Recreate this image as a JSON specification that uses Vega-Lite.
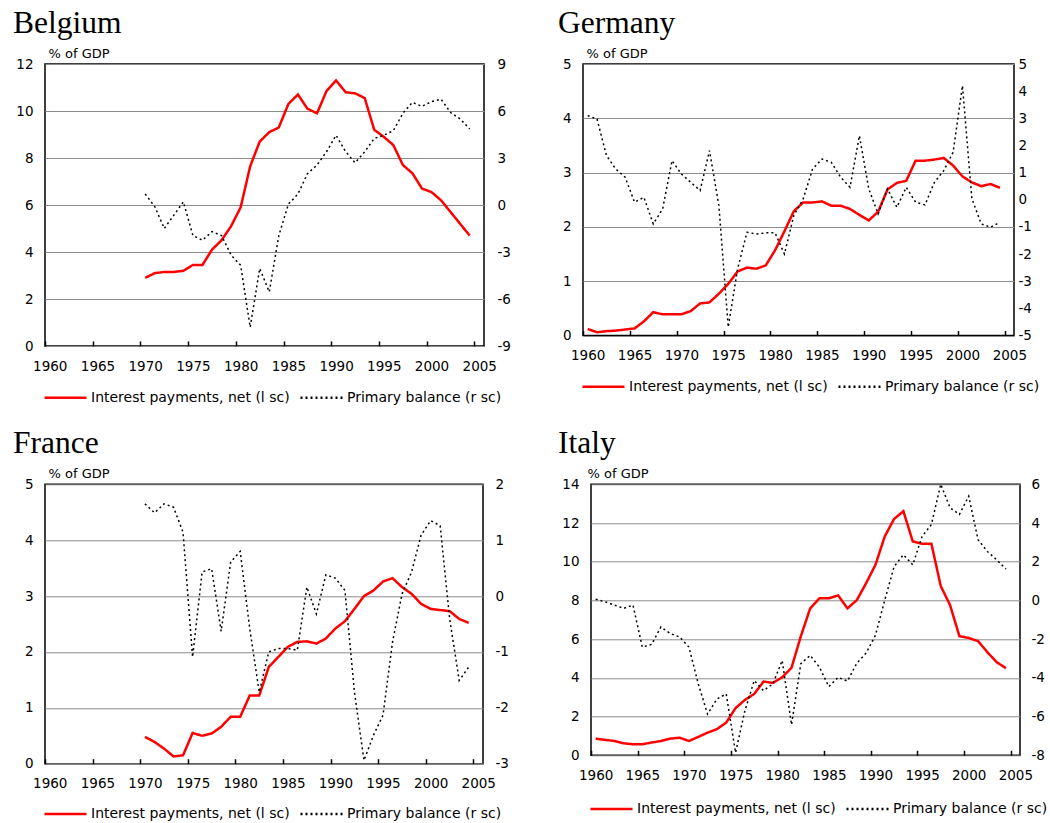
{
"$schema": "https://vega.github.io/schema/vega-lite/v6.json",
"padding": {"left": 12, "top": 6, "right": 5, "bottom": 5},
"background": "white",
"datasets": {
"BE": [
{"s":"ip","year":1970,"v":2.9},{"s":"ip","year":1971,"v":3.1},{"s":"ip","year":1972,"v":3.15},{"s":"ip","year":1973,"v":3.15},{"s":"ip","year":1974,"v":3.2},{"s":"ip","year":1975,"v":3.45},{"s":"ip","year":1976,"v":3.45},{"s":"ip","year":1977,"v":4.1},{"s":"ip","year":1978,"v":4.5},{"s":"ip","year":1979,"v":5.1},{"s":"ip","year":1980,"v":5.9},{"s":"ip","year":1981,"v":7.65},{"s":"ip","year":1982,"v":8.7},{"s":"ip","year":1983,"v":9.1},{"s":"ip","year":1984,"v":9.3},{"s":"ip","year":1985,"v":10.3},{"s":"ip","year":1986,"v":10.7},{"s":"ip","year":1987,"v":10.1},{"s":"ip","year":1988,"v":9.9},{"s":"ip","year":1989,"v":10.85},{"s":"ip","year":1990,"v":11.3},{"s":"ip","year":1991,"v":10.8},{"s":"ip","year":1992,"v":10.75},{"s":"ip","year":1993,"v":10.55},{"s":"ip","year":1994,"v":9.2},{"s":"ip","year":1995,"v":8.9},{"s":"ip","year":1996,"v":8.55},{"s":"ip","year":1997,"v":7.7},{"s":"ip","year":1998,"v":7.35},{"s":"ip","year":1999,"v":6.7},{"s":"ip","year":2000,"v":6.55},{"s":"ip","year":2001,"v":6.2},{"s":"ip","year":2002,"v":5.7},{"s":"ip","year":2003,"v":5.2},{"s":"ip","year":2004,"v":4.7},
{"s":"pb","year":1970,"v":0.7},{"s":"pb","year":1971,"v":-0.1},{"s":"pb","year":1972,"v":-1.5},{"s":"pb","year":1973,"v":-0.65},{"s":"pb","year":1974,"v":0.2},{"s":"pb","year":1975,"v":-1.95},{"s":"pb","year":1976,"v":-2.25},{"s":"pb","year":1977,"v":-1.7},{"s":"pb","year":1978,"v":-1.95},{"s":"pb","year":1979,"v":-3.2},{"s":"pb","year":1980,"v":-3.85},{"s":"pb","year":1981,"v":-7.8},{"s":"pb","year":1982,"v":-4.05},{"s":"pb","year":1983,"v":-5.55},{"s":"pb","year":1984,"v":-1.95},{"s":"pb","year":1985,"v":0.05},{"s":"pb","year":1986,"v":0.7},{"s":"pb","year":1987,"v":2.0},{"s":"pb","year":1988,"v":2.55},{"s":"pb","year":1989,"v":3.4},{"s":"pb","year":1990,"v":4.45},{"s":"pb","year":1991,"v":3.4},{"s":"pb","year":1992,"v":2.7},{"s":"pb","year":1993,"v":3.4},{"s":"pb","year":1994,"v":4.25},{"s":"pb","year":1995,"v":4.45},{"s":"pb","year":1996,"v":4.75},{"s":"pb","year":1997,"v":5.85},{"s":"pb","year":1998,"v":6.55},{"s":"pb","year":1999,"v":6.3},{"s":"pb","year":2000,"v":6.6},{"s":"pb","year":2001,"v":6.75},{"s":"pb","year":2002,"v":5.9},{"s":"pb","year":2003,"v":5.5},{"s":"pb","year":2004,"v":4.85}
],
"DE": [
{"s":"ip","year":1960,"v":0.12},{"s":"ip","year":1961,"v":0.06},{"s":"ip","year":1962,"v":0.08},{"s":"ip","year":1963,"v":0.09},{"s":"ip","year":1964,"v":0.11},{"s":"ip","year":1965,"v":0.13},{"s":"ip","year":1966,"v":0.26},{"s":"ip","year":1967,"v":0.43},{"s":"ip","year":1968,"v":0.39},{"s":"ip","year":1969,"v":0.39},{"s":"ip","year":1970,"v":0.39},{"s":"ip","year":1971,"v":0.45},{"s":"ip","year":1972,"v":0.59},{"s":"ip","year":1973,"v":0.61},{"s":"ip","year":1974,"v":0.77},{"s":"ip","year":1975,"v":0.95},{"s":"ip","year":1976,"v":1.18},{"s":"ip","year":1977,"v":1.25},{"s":"ip","year":1978,"v":1.23},{"s":"ip","year":1979,"v":1.29},{"s":"ip","year":1980,"v":1.57},{"s":"ip","year":1981,"v":1.92},{"s":"ip","year":1982,"v":2.29},{"s":"ip","year":1983,"v":2.45},{"s":"ip","year":1984,"v":2.45},{"s":"ip","year":1985,"v":2.47},{"s":"ip","year":1986,"v":2.39},{"s":"ip","year":1987,"v":2.39},{"s":"ip","year":1988,"v":2.33},{"s":"ip","year":1989,"v":2.22},{"s":"ip","year":1990,"v":2.12},{"s":"ip","year":1991,"v":2.28},{"s":"ip","year":1992,"v":2.69},{"s":"ip","year":1993,"v":2.81},{"s":"ip","year":1994,"v":2.85},{"s":"ip","year":1995,"v":3.22},{"s":"ip","year":1996,"v":3.22},{"s":"ip","year":1997,"v":3.24},{"s":"ip","year":1998,"v":3.27},{"s":"ip","year":1999,"v":3.13},{"s":"ip","year":2000,"v":2.93},{"s":"ip","year":2001,"v":2.82},{"s":"ip","year":2002,"v":2.75},{"s":"ip","year":2003,"v":2.79},{"s":"ip","year":2004,"v":2.72},
{"s":"pb","year":1960,"v":3.1},{"s":"pb","year":1961,"v":2.97},{"s":"pb","year":1962,"v":1.63},{"s":"pb","year":1963,"v":1.13},{"s":"pb","year":1964,"v":0.83},{"s":"pb","year":1965,"v":-0.09},{"s":"pb","year":1966,"v":0.09},{"s":"pb","year":1967,"v":-0.89},{"s":"pb","year":1968,"v":-0.34},{"s":"pb","year":1969,"v":1.44},{"s":"pb","year":1970,"v":0.95},{"s":"pb","year":1971,"v":0.64},{"s":"pb","year":1972,"v":0.34},{"s":"pb","year":1973,"v":1.81},{"s":"pb","year":1974,"v":-0.21},{"s":"pb","year":1975,"v":-4.69},{"s":"pb","year":1976,"v":-2.55},{"s":"pb","year":1977,"v":-1.2},{"s":"pb","year":1978,"v":-1.26},{"s":"pb","year":1979,"v":-1.22},{"s":"pb","year":1980,"v":-1.22},{"s":"pb","year":1981,"v":-2.0},{"s":"pb","year":1982,"v":-0.58},{"s":"pb","year":1983,"v":0.03},{"s":"pb","year":1984,"v":1.13},{"s":"pb","year":1985,"v":1.5},{"s":"pb","year":1986,"v":1.38},{"s":"pb","year":1987,"v":0.83},{"s":"pb","year":1988,"v":0.46},{"s":"pb","year":1989,"v":2.36},{"s":"pb","year":1990,"v":0.4},{"s":"pb","year":1991,"v":-0.52},{"s":"pb","year":1992,"v":0.4},{"s":"pb","year":1993,"v":-0.28},{"s":"pb","year":1994,"v":0.46},{"s":"pb","year":1995,"v":-0.09},{"s":"pb","year":1996,"v":-0.19},{"s":"pb","year":1997,"v":0.64},{"s":"pb","year":1998,"v":1.07},{"s":"pb","year":1999,"v":1.75},{"s":"pb","year":2000,"v":4.2},{"s":"pb","year":2001,"v":0.05},{"s":"pb","year":2002,"v":-0.89},{"s":"pb","year":2003,"v":-1.01},{"s":"pb","year":2004,"v":-0.83}
],
"FR": [
{"s":"ip","year":1970,"v":0.48},{"s":"ip","year":1971,"v":0.39},{"s":"ip","year":1972,"v":0.27},{"s":"ip","year":1973,"v":0.13},{"s":"ip","year":1974,"v":0.15},{"s":"ip","year":1975,"v":0.55},{"s":"ip","year":1976,"v":0.5},{"s":"ip","year":1977,"v":0.54},{"s":"ip","year":1978,"v":0.66},{"s":"ip","year":1979,"v":0.84},{"s":"ip","year":1980,"v":0.84},{"s":"ip","year":1981,"v":1.22},{"s":"ip","year":1982,"v":1.22},{"s":"ip","year":1983,"v":1.73},{"s":"ip","year":1984,"v":1.91},{"s":"ip","year":1985,"v":2.09},{"s":"ip","year":1986,"v":2.18},{"s":"ip","year":1987,"v":2.19},{"s":"ip","year":1988,"v":2.15},{"s":"ip","year":1989,"v":2.24},{"s":"ip","year":1990,"v":2.42},{"s":"ip","year":1991,"v":2.55},{"s":"ip","year":1992,"v":2.77},{"s":"ip","year":1993,"v":3.0},{"s":"ip","year":1994,"v":3.1},{"s":"ip","year":1995,"v":3.26},{"s":"ip","year":1996,"v":3.32},{"s":"ip","year":1997,"v":3.16},{"s":"ip","year":1998,"v":3.04},{"s":"ip","year":1999,"v":2.86},{"s":"ip","year":2000,"v":2.77},{"s":"ip","year":2001,"v":2.75},{"s":"ip","year":2002,"v":2.73},{"s":"ip","year":2003,"v":2.59},{"s":"ip","year":2004,"v":2.52},
{"s":"pb","year":1970,"v":1.65},{"s":"pb","year":1971,"v":1.49},{"s":"pb","year":1972,"v":1.65},{"s":"pb","year":1973,"v":1.59},{"s":"pb","year":1974,"v":1.14},{"s":"pb","year":1975,"v":-1.09},{"s":"pb","year":1976,"v":0.43},{"s":"pb","year":1977,"v":0.49},{"s":"pb","year":1978,"v":-0.63},{"s":"pb","year":1979,"v":0.61},{"s":"pb","year":1980,"v":0.8},{"s":"pb","year":1981,"v":-0.58},{"s":"pb","year":1982,"v":-1.72},{"s":"pb","year":1983,"v":-1.0},{"s":"pb","year":1984,"v":-0.94},{"s":"pb","year":1985,"v":-0.94},{"s":"pb","year":1986,"v":-0.97},{"s":"pb","year":1987,"v":0.16},{"s":"pb","year":1988,"v":-0.32},{"s":"pb","year":1989,"v":0.38},{"s":"pb","year":1990,"v":0.32},{"s":"pb","year":1991,"v":0.1},{"s":"pb","year":1992,"v":-1.72},{"s":"pb","year":1993,"v":-2.94},{"s":"pb","year":1994,"v":-2.49},{"s":"pb","year":1995,"v":-2.13},{"s":"pb","year":1996,"v":-0.82},{"s":"pb","year":1997,"v":0.04},{"s":"pb","year":1998,"v":0.43},{"s":"pb","year":1999,"v":1.09},{"s":"pb","year":2000,"v":1.35},{"s":"pb","year":2001,"v":1.26},{"s":"pb","year":2002,"v":-0.41},{"s":"pb","year":2003,"v":-1.51},{"s":"pb","year":2004,"v":-1.27}
],
"IT": [
{"s":"ip","year":1960,"v":0.86},{"s":"ip","year":1961,"v":0.8},{"s":"ip","year":1962,"v":0.74},{"s":"ip","year":1963,"v":0.62},{"s":"ip","year":1964,"v":0.57},{"s":"ip","year":1965,"v":0.57},{"s":"ip","year":1966,"v":0.66},{"s":"ip","year":1967,"v":0.74},{"s":"ip","year":1968,"v":0.86},{"s":"ip","year":1969,"v":0.91},{"s":"ip","year":1970,"v":0.74},{"s":"ip","year":1971,"v":0.95},{"s":"ip","year":1972,"v":1.17},{"s":"ip","year":1973,"v":1.35},{"s":"ip","year":1974,"v":1.69},{"s":"ip","year":1975,"v":2.44},{"s":"ip","year":1976,"v":2.86},{"s":"ip","year":1977,"v":3.17},{"s":"ip","year":1978,"v":3.81},{"s":"ip","year":1979,"v":3.74},{"s":"ip","year":1980,"v":4.03},{"s":"ip","year":1981,"v":4.52},{"s":"ip","year":1982,"v":6.15},{"s":"ip","year":1983,"v":7.59},{"s":"ip","year":1984,"v":8.11},{"s":"ip","year":1985,"v":8.11},{"s":"ip","year":1986,"v":8.26},{"s":"ip","year":1987,"v":7.59},{"s":"ip","year":1988,"v":8.02},{"s":"ip","year":1989,"v":8.89},{"s":"ip","year":1990,"v":9.84},{"s":"ip","year":1991,"v":11.31},{"s":"ip","year":1992,"v":12.21},{"s":"ip","year":1993,"v":12.61},{"s":"ip","year":1994,"v":11.05},{"s":"ip","year":1995,"v":10.93},{"s":"ip","year":1996,"v":10.93},{"s":"ip","year":1997,"v":8.75},{"s":"ip","year":1998,"v":7.76},{"s":"ip","year":1999,"v":6.16},{"s":"ip","year":2000,"v":6.06},{"s":"ip","year":2001,"v":5.9},{"s":"ip","year":2002,"v":5.33},{"s":"ip","year":2003,"v":4.81},{"s":"ip","year":2004,"v":4.5},
{"s":"pb","year":1960,"v":0.06},{"s":"pb","year":1961,"v":-0.07},{"s":"pb","year":1962,"v":-0.24},{"s":"pb","year":1963,"v":-0.41},{"s":"pb","year":1964,"v":-0.24},{"s":"pb","year":1965,"v":-2.41},{"s":"pb","year":1966,"v":-2.27},{"s":"pb","year":1967,"v":-1.37},{"s":"pb","year":1968,"v":-1.71},{"s":"pb","year":1969,"v":-1.89},{"s":"pb","year":1970,"v":-2.41},{"s":"pb","year":1971,"v":-4.31},{"s":"pb","year":1972,"v":-5.87},{"s":"pb","year":1973,"v":-5.09},{"s":"pb","year":1974,"v":-4.83},{"s":"pb","year":1975,"v":-7.86},{"s":"pb","year":1976,"v":-5.7},{"s":"pb","year":1977,"v":-4.14},{"s":"pb","year":1978,"v":-4.66},{"s":"pb","year":1979,"v":-4.31},{"s":"pb","year":1980,"v":-3.1},{"s":"pb","year":1981,"v":-6.42},{"s":"pb","year":1982,"v":-3.27},{"s":"pb","year":1983,"v":-2.84},{"s":"pb","year":1984,"v":-3.45},{"s":"pb","year":1985,"v":-4.45},{"s":"pb","year":1986,"v":-3.97},{"s":"pb","year":1987,"v":-4.17},{"s":"pb","year":1988,"v":-3.24},{"s":"pb","year":1989,"v":-2.72},{"s":"pb","year":1990,"v":-1.8},{"s":"pb","year":1991,"v":0.02},{"s":"pb","year":1992,"v":1.75},{"s":"pb","year":1993,"v":2.36},{"s":"pb","year":1994,"v":1.84},{"s":"pb","year":1995,"v":3.31},{"s":"pb","year":1996,"v":3.92},{"s":"pb","year":1997,"v":6.0},{"s":"pb","year":1998,"v":4.79},{"s":"pb","year":1999,"v":4.44},{"s":"pb","year":2000,"v":5.39},{"s":"pb","year":2001,"v":3.14},{"s":"pb","year":2002,"v":2.53},{"s":"pb","year":2003,"v":2.1},{"s":"pb","year":2004,"v":1.62}
]
},
"vconcat": [
{
"hconcat": [
{
"title": {"text": "Belgium", "dx": -32},
"width": 439, "height": 282,
"data": {"name": "BE"},
"encoding": {"x": {"field": "year", "type": "quantitative", "scale": {"domain": [1959.5, 2005.5], "nice": false, "zero": false}, "axis": {"values": [1960,1965,1970,1975,1980,1985,1990,1995,2000,2005], "format": "d", "tickOffset": -4.77, "labelOffset": 4.77, "title": null}}},
"layer": [
{"transform": [{"filter": "datum.s == 'ip'"}], "mark": {"type": "line", "strokeWidth": 2.5},
 "encoding": {"y": {"field": "v", "type": "quantitative", "scale": {"domain": [0, 12], "nice": false, "zero": false}, "axis": {"orient": "left", "values": [0,2,4,6,8,10,12], "grid": true, "title": "% of GDP"}},
  "color": {"field": "s", "type": "nominal", "scale": {"domain": ["ip","pb"], "range": ["#ff0000","#000000"]}, "legend": {"legendX": -2, "legendY": 311, "labelExpr": "datum.label == 'ip' ? 'Interest payments, net (l sc)' : 'Primary balance (r sc)'"}},
  "strokeDash": {"field": "s", "type": "nominal", "scale": {"domain": ["ip","pb"], "range": [[1,0],[2,3]]}}}},
{"transform": [{"filter": "datum.s == 'pb'"}], "mark": {"type": "line", "strokeWidth": 1.5},
 "encoding": {"y": {"field": "v", "type": "quantitative", "scale": {"domain": [-9, 9], "nice": false, "zero": false}, "axis": {"orient": "right", "values": [-9,-6,-3,0,3,6,9], "grid": false, "title": null, "labelPadding": 13}},
  "color": {"field": "s", "type": "nominal", "scale": {"domain": ["ip","pb"], "range": ["#ff0000","#000000"]}},
  "strokeDash": {"field": "s", "type": "nominal", "scale": {"domain": ["ip","pb"], "range": [[1,0],[2,3]]}}}}
],
"resolve": {"scale": {"y": "independent"}}
},
{
"title": {"text": "Germany", "dx": -25},
"width": 431, "height": 271.5,
"data": {"name": "DE"},
"encoding": {"x": {"field": "year", "type": "quantitative", "scale": {"domain": [1959.5, 2005.5], "nice": false, "zero": false}, "axis": {"values": [1960,1965,1970,1975,1980,1985,1990,1995,2000,2005], "format": "d", "tickOffset": -4.685, "labelOffset": 4.685, "title": null}}},
"layer": [
{"transform": [{"filter": "datum.s == 'ip'"}], "mark": {"type": "line", "strokeWidth": 2.5},
 "encoding": {"y": {"field": "v", "type": "quantitative", "scale": {"domain": [0, 5], "nice": false, "zero": false}, "axis": {"orient": "left", "values": [0,1,2,3,4,5], "grid": true, "title": "% of GDP"}},
  "color": {"field": "s", "type": "nominal", "scale": {"domain": ["ip","pb"], "range": ["#ff0000","#000000"]}, "legend": {"legendX": -2, "legendY": 300, "labelExpr": "datum.label == 'ip' ? 'Interest payments, net (l sc)' : 'Primary balance (r sc)'"}},
  "strokeDash": {"field": "s", "type": "nominal", "scale": {"domain": ["ip","pb"], "range": [[1,0],[2,3]]}}}},
{"transform": [{"filter": "datum.s == 'pb'"}], "mark": {"type": "line", "strokeWidth": 1.5},
 "encoding": {"y": {"field": "v", "type": "quantitative", "scale": {"domain": [-5, 5], "nice": false, "zero": false}, "axis": {"orient": "right", "values": [-5,-4,-3,-2,-1,0,1,2,3,4,5], "grid": false, "title": null, "labelPadding": 4}},
  "color": {"field": "s", "type": "nominal", "scale": {"domain": ["ip","pb"], "range": ["#ff0000","#000000"]}},
  "strokeDash": {"field": "s", "type": "nominal", "scale": {"domain": ["ip","pb"], "range": [[1,0],[2,3]]}}}}
],
"resolve": {"scale": {"y": "independent"}}
}
],
"spacing": 99,
"bounds": "flush",
"resolve": {"scale": {"color": "independent", "strokeDash": "independent"}, "legend": {"color": "independent", "strokeDash": "independent"}}
},
{
"hconcat": [
{
"title": {"text": "France", "dx": -32},
"width": 438, "height": 279.4,
"data": {"name": "FR"},
"encoding": {"x": {"field": "year", "type": "quantitative", "scale": {"domain": [1959.5, 2005.5], "nice": false, "zero": false}, "axis": {"values": [1960,1965,1970,1975,1980,1985,1990,1995,2000,2005], "format": "d", "tickOffset": -4.76, "labelOffset": 4.76, "title": null}}},
"layer": [
{"transform": [{"filter": "datum.s == 'ip'"}], "mark": {"type": "line", "strokeWidth": 2.5},
 "encoding": {"y": {"field": "v", "type": "quantitative", "scale": {"domain": [0, 5], "nice": false, "zero": false}, "axis": {"orient": "left", "values": [0,1,2,3,4,5], "grid": true, "title": "% of GDP"}},
  "color": {"field": "s", "type": "nominal", "scale": {"domain": ["ip","pb"], "range": ["#ff0000","#000000"]}, "legend": {"legendX": -2, "legendY": 307, "labelExpr": "datum.label == 'ip' ? 'Interest payments, net (l sc)' : 'Primary balance (r sc)'"}},
  "strokeDash": {"field": "s", "type": "nominal", "scale": {"domain": ["ip","pb"], "range": [[1,0],[2,3]]}}}},
{"transform": [{"filter": "datum.s == 'pb'"}], "mark": {"type": "line", "strokeWidth": 1.5},
 "encoding": {"y": {"field": "v", "type": "quantitative", "scale": {"domain": [-3, 2], "nice": false, "zero": false}, "axis": {"orient": "right", "values": [-3,-2,-1,0,1,2], "grid": false, "title": null, "labelPadding": 12}},
  "color": {"field": "s", "type": "nominal", "scale": {"domain": ["ip","pb"], "range": ["#ff0000","#000000"]}},
  "strokeDash": {"field": "s", "type": "nominal", "scale": {"domain": ["ip","pb"], "range": [[1,0],[2,3]]}}}}
],
"resolve": {"scale": {"y": "independent"}}
},
{
"title": {"text": "Italy", "dx": -33},
"width": 429, "height": 271,
"data": {"name": "IT"},
"encoding": {"x": {"field": "year", "type": "quantitative", "scale": {"domain": [1959.5, 2005.5], "nice": false, "zero": false}, "axis": {"values": [1960,1965,1970,1975,1980,1985,1990,1995,2000,2005], "format": "d", "tickOffset": -4.663, "labelOffset": 4.663, "title": null}}},
"layer": [
{"transform": [{"filter": "datum.s == 'ip'"}], "mark": {"type": "line", "strokeWidth": 2.5},
 "encoding": {"y": {"field": "v", "type": "quantitative", "scale": {"domain": [0, 14], "nice": false, "zero": false}, "axis": {"orient": "left", "values": [0,2,4,6,8,10,12,14], "grid": true, "title": "% of GDP", "titleX": -4}},
  "color": {"field": "s", "type": "nominal", "scale": {"domain": ["ip","pb"], "range": ["#ff0000","#000000"]}, "legend": {"legendX": -2, "legendY": 302, "labelExpr": "datum.label == 'ip' ? 'Interest payments, net (l sc)' : 'Primary balance (r sc)'"}},
  "strokeDash": {"field": "s", "type": "nominal", "scale": {"domain": ["ip","pb"], "range": [[1,0],[2,3]]}}}},
{"transform": [{"filter": "datum.s == 'pb'"}], "mark": {"type": "line", "strokeWidth": 1.5},
 "encoding": {"y": {"field": "v", "type": "quantitative", "scale": {"domain": [-8, 6], "nice": false, "zero": false}, "axis": {"orient": "right", "values": [-8,-6,-4,-2,0,2,4,6], "grid": false, "title": null, "labelPadding": 11}},
  "color": {"field": "s", "type": "nominal", "scale": {"domain": ["ip","pb"], "range": ["#ff0000","#000000"]}},
  "strokeDash": {"field": "s", "type": "nominal", "scale": {"domain": ["ip","pb"], "range": [[1,0],[2,3]]}}}}
],
"resolve": {"scale": {"y": "independent"}}
}
],
"spacing": 108,
"bounds": "flush",
"resolve": {"scale": {"color": "independent", "strokeDash": "independent"}, "legend": {"color": "independent", "strokeDash": "independent"}}
}
],
"spacing": 420.3,
"bounds": "flush",
"resolve": {"scale": {"color": "independent", "strokeDash": "independent"}, "legend": {"color": "independent", "strokeDash": "independent"}},
"config": {
"locale": {"number": {"decimal": ".", "thousands": ",", "grouping": [3], "currency": ["$", ""], "minus": "-"}},
"font": "DejaVu Sans",
"view": {"stroke": "#000000", "strokeWidth": 1.5},
"title": {"font": "Liberation Serif", "fontSize": 31.5, "fontWeight": "normal", "color": "#000000", "anchor": "start", "frame": "group", "offset": 8},
"axis": {"labelFont": "DejaVu Sans", "labelFontSize": 13.5, "labelColor": "#000000", "labelFlush": false, "labelOverlap": false, "domain": false, "ticks": false, "labelPadding": 12, "gridColor": "#8c8c8c", "gridWidth": 1, "gridOpacity": 1, "titleFont": "DejaVu Sans", "titleFontSize": 13, "titleFontWeight": "normal", "titleColor": "#000000", "titleAngle": 0, "titleAlign": "left", "titleBaseline": "middle", "titleX": 3, "titleY": -11},
"axisX": {"grid": false, "ticks": true, "tickSize": -5, "tickColor": "#000000", "tickWidth": 1.5, "labelPadding": 18},
"legend": {"orient": "none", "direction": "horizontal", "title": null, "symbolType": "stroke", "symbolSize": 1764, "symbolStrokeWidth": 2.5, "labelFont": "DejaVu Sans", "labelFontSize": 14, "labelColor": "#000000", "labelOffset": 3, "columnPadding": 5, "labelLimit": 400}
}
}
